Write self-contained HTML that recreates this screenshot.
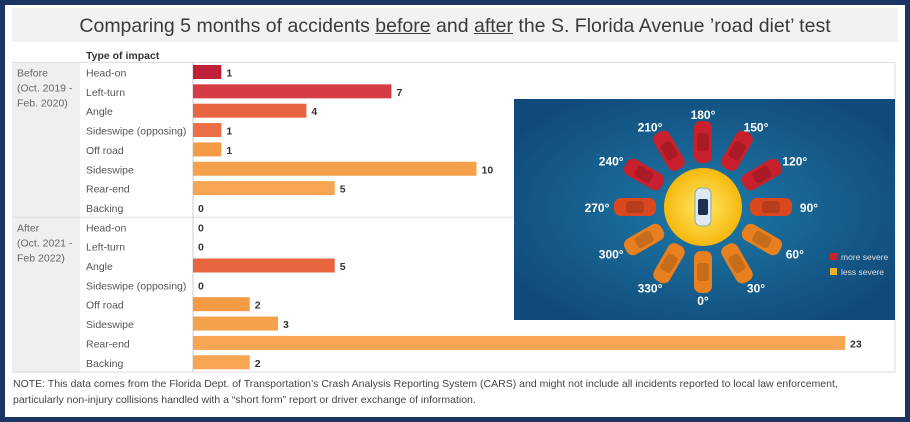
<!DOCTYPE html>
<html><head><meta charset="utf-8"><style>
body{margin:0;width:910px;height:422px;overflow:hidden;font-family:"Liberation Sans",sans-serif;}
#frame{position:absolute;left:0;top:0;width:900px;height:412px;border:5px solid #1c3562;background:#fff;}
#title{position:absolute;left:7px;top:3px;width:886px;height:34px;background:#f2f2f2;text-align:center;font-size:19.5px;line-height:36px;color:#3a3a3a;}
#title u{text-decoration:underline;}
.note{position:absolute;left:8px;font-size:10.5px;color:#444;}
</style></head><body>
<div id="frame">
<div id="title">Comparing 5 months of accidents <u>before</u> and <u>after</u> the S. Florida Avenue ’road diet’ test</div>
<div class="note" style="top:373px">NOTE: This data comes from the Florida Dept. of Transportation’s Crash Analysis Reporting System (CARS) and might not include all incidents reported to local law enforcement,</div>
<div class="note" style="top:389px">particularly non-injury collisions handled with a “short form” report or driver exchange of information.</div>
</div>
<svg id="chart" width="910" height="422" style="position:absolute;left:0;top:0"></svg>
<script>
const categories=["Head-on","Left-turn","Angle","Sideswipe (opposing)","Off road","Sideswipe","Rear-end","Backing"];
const beforeValues=[1,7,4,1,1,10,5,0];
const afterValues=[0,0,5,0,2,3,23,2];
const groups=["Before","After"];
const groupLabels=[["Before","(Oct. 2019 -","Feb. 2020)"],["After","(Oct. 2021 -","Feb 2022)"]];
const catColors=["#c21f3a","#d63c44","#e7663f","#ec6e45","#f59a45","#f5a04a","#f7a552","#f7a552"];
const angleLabels=["180°","150°","120°","90°","60°","30°","0°","330°","300°","270°","240°","210°"];
const ns="http://www.w3.org/2000/svg";
const svg=document.getElementById("chart");
function mk(t,a,p){const e=document.createElementNS(ns,t);for(const k in a)e.setAttribute(k,a[k]);(p||svg).appendChild(e);return e;}
const x0=193,unit=28.35,top0=62.5,rowH=19.35;
const xs=v=>x0+v*unit;
const ys=i=>top0+i*rowH;
const gbg=mk("rect",{x:12,y:top0,width:68,height:rowH*16,fill:"#efefef"});


const hdr=mk("text",{x:86,y:59,"font-size":10.5,"font-weight":"bold",fill:"#333"});hdr.textContent="Type of impact";


mk("line",{x1:12,x2:895,y1:top0,y2:top0,stroke:"#ddd"});
mk("line",{x1:12,x2:895,y1:ys(8),y2:ys(8),stroke:"#ddd"});
mk("line",{x1:12,x2:895,y1:ys(16),y2:ys(16),stroke:"#ddd"});
mk("line",{x1:x0,x2:x0,y1:top0,y2:ys(16),stroke:"#ccc"});
mk("line",{x1:895,x2:895,y1:top0,y2:ys(16),stroke:"#ddd"});
[beforeValues,afterValues].forEach((vals,g)=>{
  groupLabels[g].forEach((s,j)=>{const t=mk("text",{x:17,y:ys(g*8)+14+j*15,"font-size":10.5,fill:"#666"});t.textContent=s;
    
    });
  vals.forEach((v,i)=>{
    const r=g*8+i,y=ys(r);
    const lab=mk("text",{x:86,y:y+14,"font-size":10.5,fill:"#555"});lab.textContent=categories[i];
    
    
    if(v>0){const b=mk("rect",{x:x0,y:y+2.5,width:xs(v)-x0,height:14,fill:catColors[i]});
      
      }
    const vt=mk("text",{x:xs(v)+5,y:y+14,"font-size":10.5,"font-weight":"bold",fill:"#333"});vt.textContent=v;
    
    
  });
});
const defs=mk("defs",{});
const rg=mk("radialGradient",{id:"bg",cx:"50%",cy:"50%",r:"60%"},defs);
mk("stop",{offset:"0","stop-color":"#1d7aa8"},rg);mk("stop",{offset:"1","stop-color":"#114a7a"},rg);
const sg=mk("radialGradient",{id:"sun"},defs);
mk("stop",{offset:"0","stop-color":"#ffe866"},sg);mk("stop",{offset:"1","stop-color":"#f6b80c"},sg);
const panel=mk("g",{});


mk("rect",{x:514,y:99,width:381,height:221,fill:"url(#bg)"},panel);
const cx=703,cy=207;
mk("circle",{cx:cx,cy:cy,r:39,fill:"url(#sun)"},panel);
angleLabels.forEach((l,k)=>{
  const a=(k*30)*Math.PI/180;
  const px=cx+Math.sin(a)*68,py=cy-Math.cos(a)*65;
  const col=k<=2||k>=10?"#c8202c":(k==3||k==9?"#d9481f":"#e8801f");
  const g=mk("g",{transform:`translate(${px},${py}) rotate(${k*30})`},panel);
  mk("rect",{x:-9,y:-21,width:18,height:42,rx:7,fill:col},g);
  mk("rect",{x:-6,y:-9,width:12,height:18,rx:3,fill:"rgba(0,0,0,0.15)"},g);
  const tx=cx+Math.sin(a)*106,ty=cy-Math.cos(a)*93+5;
  const t=mk("text",{x:tx,y:ty,"font-size":12,"font-weight":"bold",fill:"#fff","text-anchor":"middle"},panel);t.textContent=l;
});
const car=mk("g",{},panel);
mk("rect",{x:cx-8,y:cy-19,width:16,height:38,rx:6,fill:"#dfe8f2",stroke:"#8aa","stroke-width":1},car);
mk("rect",{x:cx-5,y:cy-8,width:10,height:16,rx:2,fill:"#1b3050"},car);
mk("rect",{x:830,y:253,width:7,height:7,fill:"#c8202c"},panel);
mk("rect",{x:830,y:268,width:7,height:7,fill:"#f0b020"},panel);
const l1=mk("text",{x:841,y:260,"font-size":8.5,fill:"#ddd"},panel);l1.textContent="more severe";
const l2=mk("text",{x:841,y:275,"font-size":8.5,fill:"#ddd"},panel);l2.textContent="less severe";
</script>
</body></html>
